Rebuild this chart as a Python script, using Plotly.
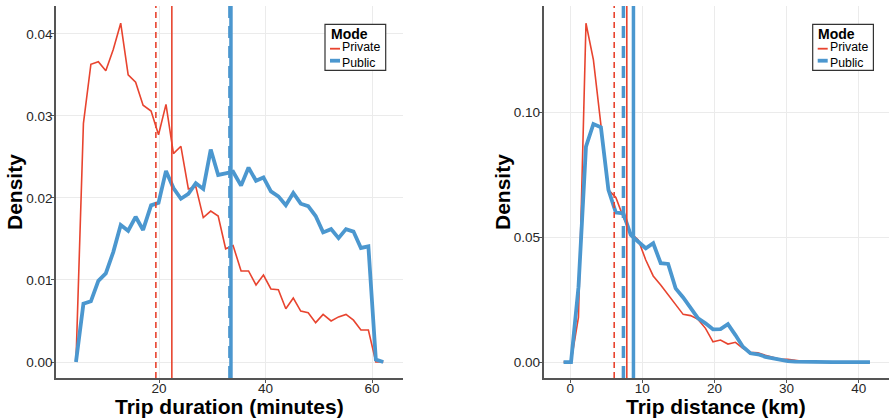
import plotly.graph_objects as go

# ---------------- data ----------------
duration_x = [4.4, 5.8, 7.2, 8.6, 10.0, 11.4, 12.8, 14.2, 15.6, 17.0, 18.5, 19.9, 21.3, 22.7,
              24.1, 25.5, 26.9, 28.3, 29.7, 31.1, 32.5, 33.9, 35.4, 36.8, 38.2, 39.6, 41.0, 42.4,
              43.8, 45.2, 46.6, 48.0, 49.4, 50.8, 52.3, 53.7, 55.1, 56.5, 57.9, 59.3, 60.7, 62.1]
duration_private = [0, 0.0291, 0.0363, 0.0366, 0.0355, 0.0381, 0.0413, 0.0350, 0.0341, 0.0313,
                    0.0306, 0.0277, 0.0314, 0.0254, 0.0263, 0.0211, 0.0214, 0.0176, 0.0184, 0.0178,
                    0.0138, 0.0142, 0.0111, 0.0111, 0.0094, 0.0106, 0.0089, 0.0088, 0.0065, 0.0078,
                    0.0062, 0.0060, 0.0048, 0.0058, 0.0050, 0.0055, 0.0058, 0.0051, 0.0039, 0.0039,
                    0.0, 0.0]
duration_public = [0, 0.0071, 0.0074, 0.0099, 0.0108, 0.0134, 0.0167, 0.0160, 0.0177, 0.0161,
                   0.0191, 0.0194, 0.0233, 0.0212, 0.0199, 0.0205, 0.0218, 0.0211, 0.0259, 0.0228,
                   0.0230, 0.0232, 0.0215, 0.0237, 0.0221, 0.0225, 0.0208, 0.0202, 0.0191, 0.0206,
                   0.0193, 0.0190, 0.0178, 0.0158, 0.0162, 0.0151, 0.0162, 0.0159, 0.0139, 0.0141,
                   0.0003, 0.0]

distance_x = [-0.92, 0.12, 1.15, 2.19, 3.22, 4.26, 5.30, 6.33, 7.37, 8.40, 9.44, 10.48, 11.51,
              12.55, 13.58, 14.62, 15.66, 16.69, 17.73, 18.76, 19.80, 20.84, 21.87, 22.91, 23.94,
              24.98, 26.02, 27.05, 28.09, 29.12, 30.16, 31.20, 32.23, 33.27, 34.30, 35.34, 36.38,
              37.41, 38.45, 39.48, 40.52, 41.56]
distance_private = [0, 0, 0.018, 0.1358, 0.1211, 0.095, 0.069, 0.066, 0.058, 0.0517,
                    0.0489, 0.0409, 0.0345, 0.0309, 0.0269, 0.0229, 0.0191, 0.0186, 0.0171, 0.0135,
                    0.0081, 0.0088, 0.0072, 0.0079, 0.0055, 0.0039, 0.0037, 0.0027, 0.0018, 0.0011,
                    0.0011, 0.0006, 0.0003, 0.0002, 0.0001, 0.0001, 0.0, 0.0, 0.0, 0.0, 0.0, 0.0]
distance_public = [0, 0, 0.030, 0.0863, 0.0954, 0.0941, 0.069, 0.0599, 0.0596, 0.0509,
                   0.0482, 0.0456, 0.0476, 0.0396, 0.0393, 0.0295, 0.0259, 0.0215, 0.0175, 0.0155,
                   0.0131, 0.0132, 0.0152, 0.0108, 0.0061, 0.0035, 0.0031, 0.0021, 0.0015, 0.0007,
                   0.0004, 0.0002, 0.0001, 0.0001, 0.0001, 0.0, 0.0, 0.0, 0.0, 0.0, 0.0, 0.0]

# reference lines: [median (dashed), mean (solid)]
duration_private_lines = [19.4, 22.4]
duration_public_lines = [33.3, 33.5]
distance_private_lines = [6.1, 7.85]
distance_public_lines = [7.38, 8.77]

modes = ["Private", "Public"]
duration_ticks = [20, 40, 60]
distance_ticks = [0, 10, 20, 30, 40]
duration_yticks = [0.00, 0.01, 0.02, 0.03, 0.04]
distance_yticks = [0.00, 0.05, 0.10]

# ---------------- style ----------------
RED = "#E8442F"
BLUE = "#4B97CF"
W, H = 889, 419
FONT = "Liberation Sans, Arial, sans-serif"


def px(xp):
    return xp / W


def py(yp):
    return 1 - yp / H


fig = go.Figure()

# curves
fig.add_trace(go.Scatter(x=duration_x, y=duration_private, mode="lines",
                         line=dict(color=RED, width=1.6), xaxis="x", yaxis="y",
                         name=modes[0], showlegend=False))
fig.add_trace(go.Scatter(x=duration_x, y=duration_public, mode="lines",
                         line=dict(color=BLUE, width=3.8), xaxis="x", yaxis="y",
                         name=modes[1], showlegend=False))
fig.add_trace(go.Scatter(x=distance_x, y=distance_private, mode="lines",
                         line=dict(color=RED, width=1.6), xaxis="x2", yaxis="y2",
                         name=modes[0], showlegend=False))
fig.add_trace(go.Scatter(x=distance_x, y=distance_public, mode="lines",
                         line=dict(color=BLUE, width=3.8), xaxis="x2", yaxis="y2",
                         name=modes[1], showlegend=False))


def vlines(vals, color, width, dash, xref, yref):
    fig.add_shape(type="line", xref=xref, yref=yref, x0=vals[0], x1=vals[0], y0=0, y1=1,
                  line=dict(color=color, width=width, dash=dash))
    fig.add_shape(type="line", xref=xref, yref=yref, x0=vals[1], x1=vals[1], y0=0, y1=1,
                  line=dict(color=color, width=width, dash="solid"))


vlines(duration_private_lines, RED, 1.6, "6px,4px", "x", "y domain")
vlines(duration_public_lines, BLUE, 3.5, "12px,8px", "x", "y domain")
vlines(distance_private_lines, RED, 1.6, "6px,4px", "x2", "y2 domain")
vlines(distance_public_lines, BLUE, 3.5, "12px,8px", "x2", "y2 domain")

grid = "#EBEBEB"
axis_common = dict(showgrid=True, gridcolor=grid, gridwidth=1, zeroline=False,
                   showline=True, linecolor="#555555", linewidth=1.5,
                   ticks="outside", ticklen=3, tickcolor="#555555",
                   tickfont=dict(family=FONT, size=13.5, color="#262626"))

y_bottom, y_top = py(378), py(6)

fig.update_layout(
    width=W, height=H,
    margin=dict(l=0, r=0, t=0, b=0),
    paper_bgcolor="white", plot_bgcolor="white",
    showlegend=False,
    xaxis=dict(domain=[px(56), px(403)], range=[0.65, 65.8], tickvals=duration_ticks,
               anchor="y", ticklabelstandoff=-6, **axis_common),
    yaxis=dict(domain=[y_bottom, y_top], range=[-0.00195, 0.0434], tickvals=duration_yticks,
               tickformat=".2f", anchor="x", ticklabelstandoff=-4, **axis_common),
    xaxis2=dict(domain=[px(543.5), px(889)], range=[-3.7, 44.2], tickvals=distance_ticks,
                anchor="y2", ticklabelstandoff=-6, **axis_common),
    yaxis2=dict(domain=[y_bottom, y_top], range=[-0.0064, 0.1427], tickvals=distance_yticks,
                tickformat=".2f", anchor="x2", ticklabelstandoff=-4, **axis_common),
)

# axis titles
title_font = dict(family=FONT, size=21, color="black")
for (cx, label) in [(229.5, "Trip duration (minutes)"), (716, "Trip distance (km)")]:
    fig.add_annotation(xref="paper", yref="paper", x=px(cx), y=py(406), text="<b>%s</b>" % label,
                       showarrow=False, font=title_font, xanchor="center", yanchor="middle")
for cx in [15, 503]:
    fig.add_annotation(xref="paper", yref="paper", x=px(cx), y=py(192), text="<b>Density</b>",
                       showarrow=False, font=title_font, textangle=-90,
                       xanchor="center", yanchor="middle")

# manual legends
for off in [0, 487.7]:
    x0, x1 = 325 + off, 385.7 + off
    fig.add_shape(type="rect", xref="paper", yref="paper", x0=px(x0), x1=px(x1),
                  y0=py(70.3), y1=py(24.3), line=dict(color="#333333", width=1.2),
                  fillcolor="white", layer="above")
    fig.add_annotation(xref="paper", yref="paper", x=px(x0 + 3.5), y=py(34.5),
                       text="<b>Mode</b>", showarrow=False, xanchor="left", yanchor="middle",
                       font=dict(family=FONT, size=14, color="black"))
    for i, (lab, col, lw) in enumerate([(modes[0], RED, 1.8), (modes[1], BLUE, 3.8)]):
        yy = 48.7 + 12 * i
        fig.add_shape(type="line", xref="paper", yref="paper", x0=px(x0 + 5), x1=px(x0 + 15),
                      y0=py(yy), y1=py(yy), line=dict(color=col, width=lw), layer="above")
        fig.add_annotation(xref="paper", yref="paper", x=px(x0 + 16), y=py(54.9),
                           text=lab, showarrow=False, xanchor="left",
                           yanchor="bottom" if i == 0 else "top", borderpad=0,
                           font=dict(family=FONT, size=12.3, color="black"))

fig.write_html("out.html", config={"displayModeBar": False},
               post_script="document.body.style.margin='0';document.body.style.overflow='hidden';")
